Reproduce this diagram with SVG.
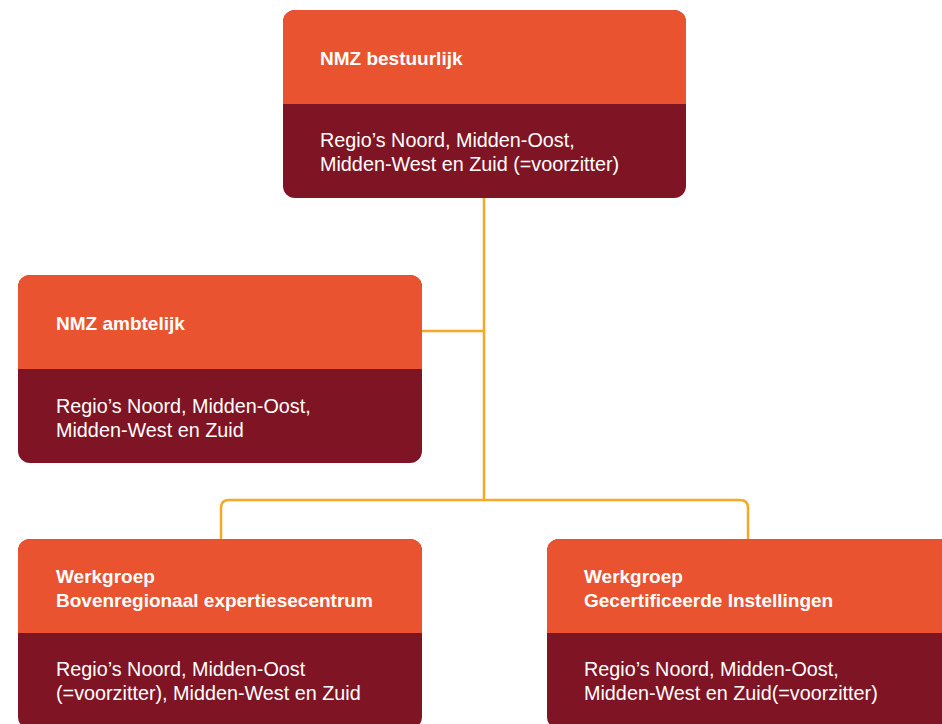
<svg xmlns="http://www.w3.org/2000/svg" width="942" height="724" viewBox="0 0 942 724">
<defs>
<style>
.hd{fill:#E9532F}
.bd{fill:#7F1524}
.t{font-family:"Liberation Sans",Arial,sans-serif;font-size:19.8px;fill:#FFFFFF}
.b{font-weight:bold;font-size:19px}
.c{fill:none;stroke:#F5A925;stroke-width:2.5}
</style>
<clipPath id="c1"><rect x="283" y="10" width="403" height="188" rx="12"/></clipPath>
<clipPath id="c2"><rect x="18" y="275" width="404" height="188" rx="12"/></clipPath>
<clipPath id="c3"><rect x="18" y="539" width="404" height="190" rx="12"/></clipPath>
<clipPath id="c4"><rect x="547" y="539" width="404" height="190" rx="12"/></clipPath>
</defs>
<rect width="942" height="724" fill="#FFFFFF"/>
<g id="connectors">
<path class="c" d="M484 198 V500"/>
<path class="c" d="M422 331 H484"/>
<path class="c" d="M221 539 V508 Q221 500 229 500 H740 Q748 500 748 508 V539"/>
</g>
<g id="node-bestuurlijk" clip-path="url(#c1)">
<rect class="bd" x="283" y="10" width="403" height="188"/>
<rect class="hd" x="283" y="10" width="403" height="94"/>
<text class="t b" x="320" y="65">NMZ bestuurlijk</text>
<text class="t" x="320" y="147">Regio’s Noord, Midden-Oost,</text>
<text class="t" x="320" y="171">Midden-West en Zuid (=voorzitter)</text>
</g>
<g id="node-ambtelijk" clip-path="url(#c2)">
<rect class="bd" x="18" y="275" width="404" height="188"/>
<rect class="hd" x="18" y="275" width="404" height="94"/>
<text class="t b" x="56" y="330">NMZ ambtelijk</text>
<text class="t" x="56" y="413">Regio’s Noord, Midden-Oost,</text>
<text class="t" x="56" y="437">Midden-West en Zuid</text>
</g>
<g id="node-werkgroep-bec" clip-path="url(#c3)">
<rect class="bd" x="18" y="539" width="404" height="190"/>
<rect class="hd" x="18" y="539" width="404" height="94"/>
<text class="t b" x="56" y="583">Werkgroep</text>
<text class="t b" x="56" y="607">Bovenregionaal expertiesecentrum</text>
<text class="t" x="56" y="676">Regio’s Noord, Midden-Oost</text>
<text class="t" x="56" y="700">(=voorzitter), Midden-West en Zuid</text>
</g>
<g id="node-werkgroep-gi" clip-path="url(#c4)">
<rect class="bd" x="547" y="539" width="404" height="190"/>
<rect class="hd" x="547" y="539" width="404" height="94"/>
<text class="t b" x="584" y="583">Werkgroep</text>
<text class="t b" x="584" y="607">Gecertificeerde Instellingen</text>
<text class="t" x="584" y="676">Regio’s Noord, Midden-Oost,</text>
<text class="t" x="584" y="700">Midden-West en Zuid(=voorzitter)</text>
</g>
</svg>
